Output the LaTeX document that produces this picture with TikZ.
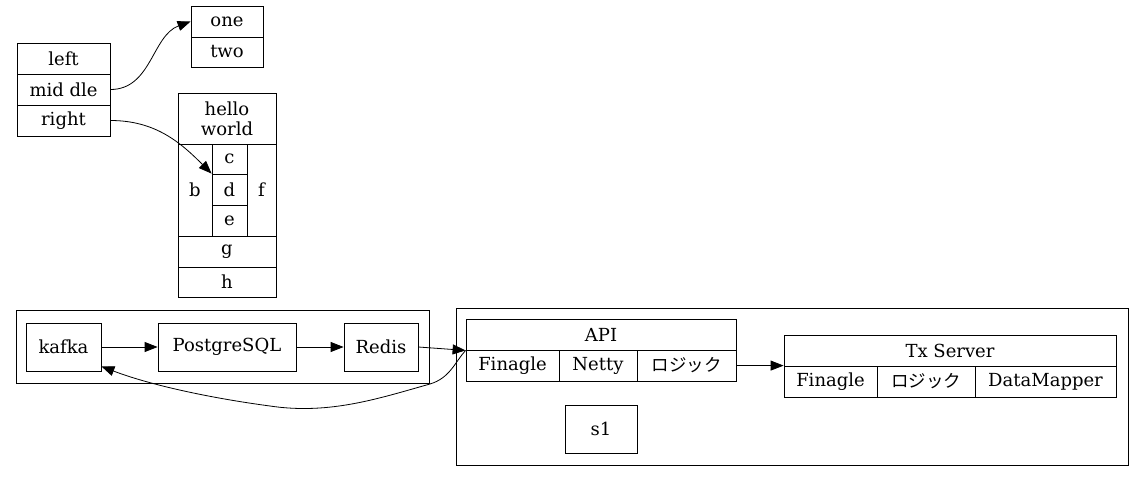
\documentclass[tikz,border=0pt]{standalone}
\usepackage{fontspec}
\setmainfont{DejaVu Serif}
\newfontfamily\cjk{Noto Sans CJK JP}
\usetikzlibrary{arrows.meta}

\tikzset{
  cell/.style n args={2}{draw, rectangle, inner sep=0pt, minimum width=#1, minimum height=#2},
  logic/.style={font=\cjk\fontsize{17.5}{20}\selectfont},
}

\begin{document}
\begin{tikzpicture}[x=1pt, y=-1pt, >={Triangle[length=13pt,width=10pt]}, line width=0.8pt, font=\fontsize{18}{20}\selectfont]
\useasboundingbox (0,0) rectangle (1144,482);

% Records on top
\path
(63.5,58.5)   node[cell={93}{31}]  (lft) {left}
(63.5,89.5)   node[cell={93}{31}]  (mid) {mid dle}
(63.5,120.5)  node[cell={93}{31}]  (rgt) {right}
(227,21.5)    node[cell={72}{31}]  (one) {one}
(227,52)      node[cell={72}{30}]  (two) {two}
(227,118.5)   node[cell={98}{51}, align=center] (hello) {hello\\world}
(195,190)     node[cell={34}{92}]  (b) {b}
(229.5,159)   node[cell={35}{30}]  (c) {c}
(229.5,189.5) node[cell={35}{31}]  (d) {d}
(229.5,220.5) node[cell={35}{31}]  (e) {e}
(261.5,190)   node[cell={29}{92}]  (f) {f}
(227,251.5)   node[cell={98}{31}]  (g) {g}
(227,282)     node[cell={98}{30}]  (h) {h}
;

\draw[->] (mid.east) to[out=0, in=200] (one.west);
\draw[->] (rgt.east) to[out=0, in=135] (d.north west);

% Cluster of stores
\path
(222.5,346.5) node[cell={413}{73}] (storebox) {}
(63.5,347)    node[cell={75}{48}]  (kafka) {kafka}
(227,347)     node[cell={138}{48}] (pg) {PostgreSQL}
(381,347)     node[cell={74}{48}]  (redis) {Redis}
;

\draw[->] (kafka)--(pg);
\draw[->] (pg)--(redis);

% Cluster of servers
\path
(792,386.5)   node[cell={672}{157}] (serverbox) {}
(601,334.5)   node[cell={270}{31}]  (api) {API}
(512.5,365.5) node[cell={93}{31}]   (fin1) {Finagle}
(598,365.5)   node[cell={78}{31}]   (netty) {Netty}
(686.5,365.5) node[cell={99}{31}, logic] (logic1) {ロジック}
(601,429)     node[cell={72}{48}]   (s1) {s1}
(950,350.5)   node[cell={332}{31}]  (tx) {Tx Server}
(830.5,381.5) node[cell={93}{31}]   (fin2) {Finagle}
(926,381.5)   node[cell={98}{31}, logic] (logic2) {ロジック}
(1045.5,381.5) node[cell={141}{31}] (dm) {DataMapper}
;

\draw[->] (redis.east)--(api.south west);
\draw[->] (logic1.east)--(fin2.north west);
\draw[->] (api.south west) .. controls (455,362) and (450,378) .. (430,384)
  .. controls (380,398) and (330,415) .. (270,406)
  .. controls (210,398) and (150,385) .. ([yshift=5pt]kafka.south east);

\end{tikzpicture}
\end{document}
